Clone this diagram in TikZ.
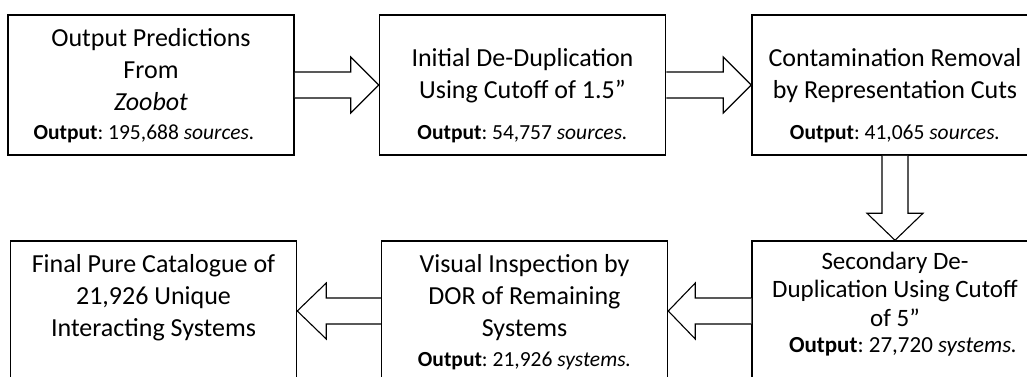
\documentclass[tikz,border=0pt]{standalone}
\usepackage{fontspec}
\setmainfont{Carlito}
\usetikzlibrary{calc}
\frenchspacing

\begin{document}
\begin{tikzpicture}[x=1pt,y=1pt,
  stage/.style={draw=black,line width=1.5pt,minimum width=286pt,minimum height=140pt,inner sep=0pt},
  title/.style={align=center,inner sep=0pt,font=\fontsize{26}{32}\selectfont},
  result/.style={inner sep=0pt,font=\fontsize{21.5}{24}\selectfont},
  fatarrow/.style={draw=black,line width=1.1pt,fill=white,line join=miter}]
\useasboundingbox (0,0) rectangle (1027,376);
\clip (0,0) rectangle (1027,376);

% top row
\node[stage] (b1) at (151,291) {};
\node[stage] (b2) at (522.5,291) {};
\node[stage] (b3) at (895,291) {};
% bottom row
\node[stage] (b4) at (153.5,65) {};
\node[stage] (b5) at (524.5,65) {};
\node[stage] (b6) at (895,65) {};

% texts
\node[title] (t1) at ($(b1.north)+(0,-55)$) {Output Predictions\\From\\\textit{Zoobot}};
\node[result] (o1) at ($(b1.south)+(-7,22)$) {\textbf{Output}: 195,688 \textit{sources.}};
\node[title] (t2) at ($(b2.north)+(0,-61)$) {Initial De-Duplication\\Using Cutoff of 1.5”};
\node[result] (o2) at ($(b2.south)+(0,22)$) {\textbf{Output}: 54,757 \textit{sources.}};
\node[title] (t3) at ($(b3.north)+(0,-61)$) {Contamination Removal\\by Representation Cuts};
\node[result] (o3) at ($(b3.south)+(0,22)$) {\textbf{Output}: 41,065 \textit{sources.}};
\node[title] (t4) at ($(b4.north)+(0,-57)$) {Final Pure Catalogue of\\21,926 Unique\\Interacting Systems};
\node[title] (t5) at ($(b5.north)+(0,-57)$) {Visual Inspection by\\DOR of Remaining\\Systems};
\node[result] (o5) at ($(b5.north)+(0,-121)$) {\textbf{Output}: 21,926 \textit{systems.}};
\node[title,font=\fontsize{25}{28.5}\selectfont] (t6) at ($(b6.north)+(0,-49)$) {Secondary De-\\Duplication Using Cutoff\\of 5”};
\node[result,font=\fontsize{23}{26}\selectfont] (o6) at ($(b6.north)+(8,-107)$) {\textbf{Output}: 27,720 \textit{systems.}};

% block arrows
\draw[fatarrow] ($(b1.east)+(0,13)$) -- ($(b2.west)+(-28,13)$) -- ($(b2.west)+(-28,28)$) -- (b2.west)
  -- ($(b2.west)+(-28,-28)$) -- ($(b2.west)+(-28,-13)$) -- ($(b1.east)+(0,-13)$);
\draw[fatarrow] ($(b2.east)+(0,13)$) -- ($(b3.west)+(-28,13)$) -- ($(b3.west)+(-28,28)$) -- (b3.west)
  -- ($(b3.west)+(-28,-28)$) -- ($(b3.west)+(-28,-13)$) -- ($(b2.east)+(0,-13)$);
\draw[fatarrow] ($(b3.south)+(-13,0)$) -- ($(b6.north)+(-13,27)$) -- ($(b6.north)+(-28,27)$) -- (b6.north)
  -- ($(b6.north)+(28,27)$) -- ($(b6.north)+(13,27)$) -- ($(b3.south)+(13,0)$);
\draw[fatarrow] ($(b6.west)+(0,13)$) -- ($(b5.east)+(27,13)$) -- ($(b5.east)+(27,28)$) -- (b5.east)
  -- ($(b5.east)+(27,-28)$) -- ($(b5.east)+(27,-13)$) -- ($(b6.west)+(0,-13)$);
\draw[fatarrow] ($(b5.west)+(0,13)$) -- ($(b4.east)+(29,13)$) -- ($(b4.east)+(29,28)$) -- (b4.east)
  -- ($(b4.east)+(29,-28)$) -- ($(b4.east)+(29,-13)$) -- ($(b5.west)+(0,-13)$);
\end{tikzpicture}
\end{document}
